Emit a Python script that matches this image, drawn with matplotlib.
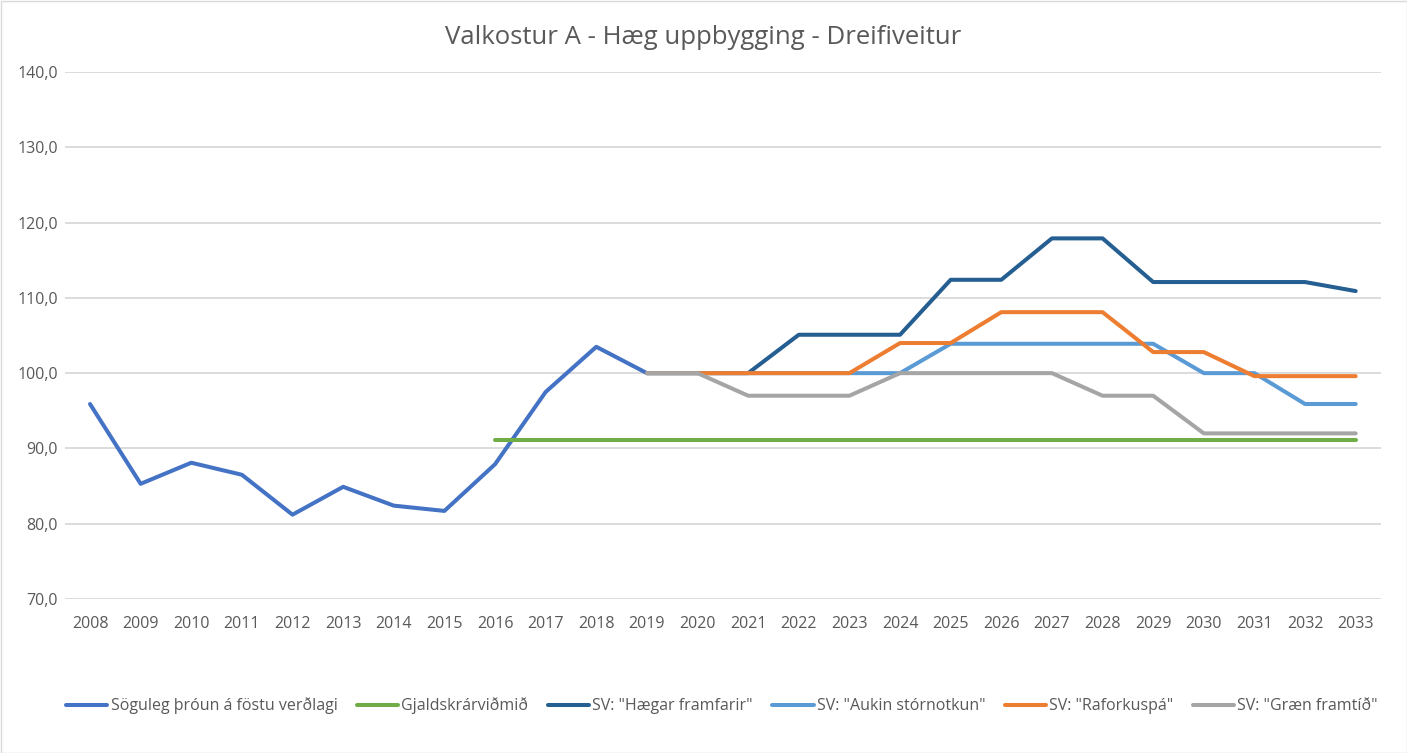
import matplotlib
matplotlib.use('Agg')
import matplotlib.pyplot as plt
from matplotlib.ticker import FuncFormatter

plt.rcParams['font.family'] = ['Open Sans', 'DejaVu Sans']

ar = list(range(2008, 2034))
ar_spa = list(range(2019, 2034))

sogulegt = [95.9, 85.3, 88.1, 86.5, 81.2, 84.9, 82.4, 81.7, 87.9, 97.5, 103.5, 100.0]
gjaldskra = [91.1] * 18  # 2016 - 2033
haegar = [100.0, 100.0, 100.0, 105.1, 105.1, 105.1, 112.4, 112.4, 117.9, 117.9, 112.1, 112.1, 112.1, 112.1, 110.9]
aukin = [100.0, 100.0, 100.0, 100.0, 100.0, 100.0, 103.9, 103.9, 103.9, 103.9, 103.9, 100.0, 100.0, 95.9, 95.9]
raforka = [100.0, 100.0, 100.0, 100.0, 100.0, 104.0, 104.0, 108.1, 108.1, 108.1, 102.8, 102.8, 99.6, 99.6, 99.6]
graen = [100.0, 100.0, 97.0, 97.0, 97.0, 100.0, 100.0, 100.0, 100.0, 97.0, 97.0, 92.0, 92.0, 92.0, 92.0]

fig = plt.figure(figsize=(14.07, 7.53), dpi=100)
ax = fig.add_axes([64.7 / 1407, 1 - 599 / 753, (1381 - 64.7) / 1407, (599 - 72) / 753])

lw = 2.9
ax.plot(ar[:12], sogulegt, color='#4472C4', lw=lw, label='Söguleg þróun á föstu verðlagi', solid_capstyle='round')
ax.plot(ar[8:], gjaldskra, color='#70AD47', lw=lw, label='Gjaldskrárviðmið', solid_capstyle='round')
ax.plot(ar_spa, haegar, color='#255E91', lw=lw, label='SV: "Hægar framfarir"', solid_capstyle='round')
ax.plot(ar_spa, aukin, color='#5B9BD5', lw=lw, label='SV: "Aukin stórnotkun"', solid_capstyle='round')
ax.plot(ar_spa, raforka, color='#ED7D31', lw=lw, label='SV: "Raforkuspá"', solid_capstyle='round')
ax.plot(ar_spa, graen, color='#A5A5A5', lw=lw, label='SV: "Græn framtíð"', solid_capstyle='round')

ax.set_xlim(2007.5, 2033.5)
ax.set_ylim(70, 140)
ax.set_yticks(range(70, 141, 10))
ax.set_xticks(ar)
ax.yaxis.set_major_formatter(FuncFormatter(lambda v, p: f'{v:.1f}'.replace('.', ',')))
ax.grid(axis='y', color='#D9D9D9', lw=1.3)
ax.set_axisbelow(True)
for s in ['top', 'right', 'left', 'bottom']:
    ax.spines[s].set_visible(False)
ax.tick_params(axis='both', length=0, labelsize=11.5, colors='#595959', pad=5)
ax.tick_params(axis='x', pad=12)

fig.text(0.5, 1 - 38 / 753, 'Valkostur A - Hæg uppbygging - Dreifiveitur', ha='center', va='center',
         fontsize=18.5, color='#595959')

fig.legend(loc='center', bbox_to_anchor=(722 / 1407, 1 - 706 / 753), ncol=6, frameon=False,
           fontsize=11.5, handlelength=2.6, handletextpad=0.2, columnspacing=1.2, labelcolor='#595959')

fig.patches.append(plt.Rectangle((0.5 / 1407, 0.5 / 753), 1 - 1 / 1407, 1 - 1 / 753, transform=fig.transFigure,
                                 fill=False, edgecolor='#D9D9D9', lw=1))

fig.savefig('out.png', dpi=100)
